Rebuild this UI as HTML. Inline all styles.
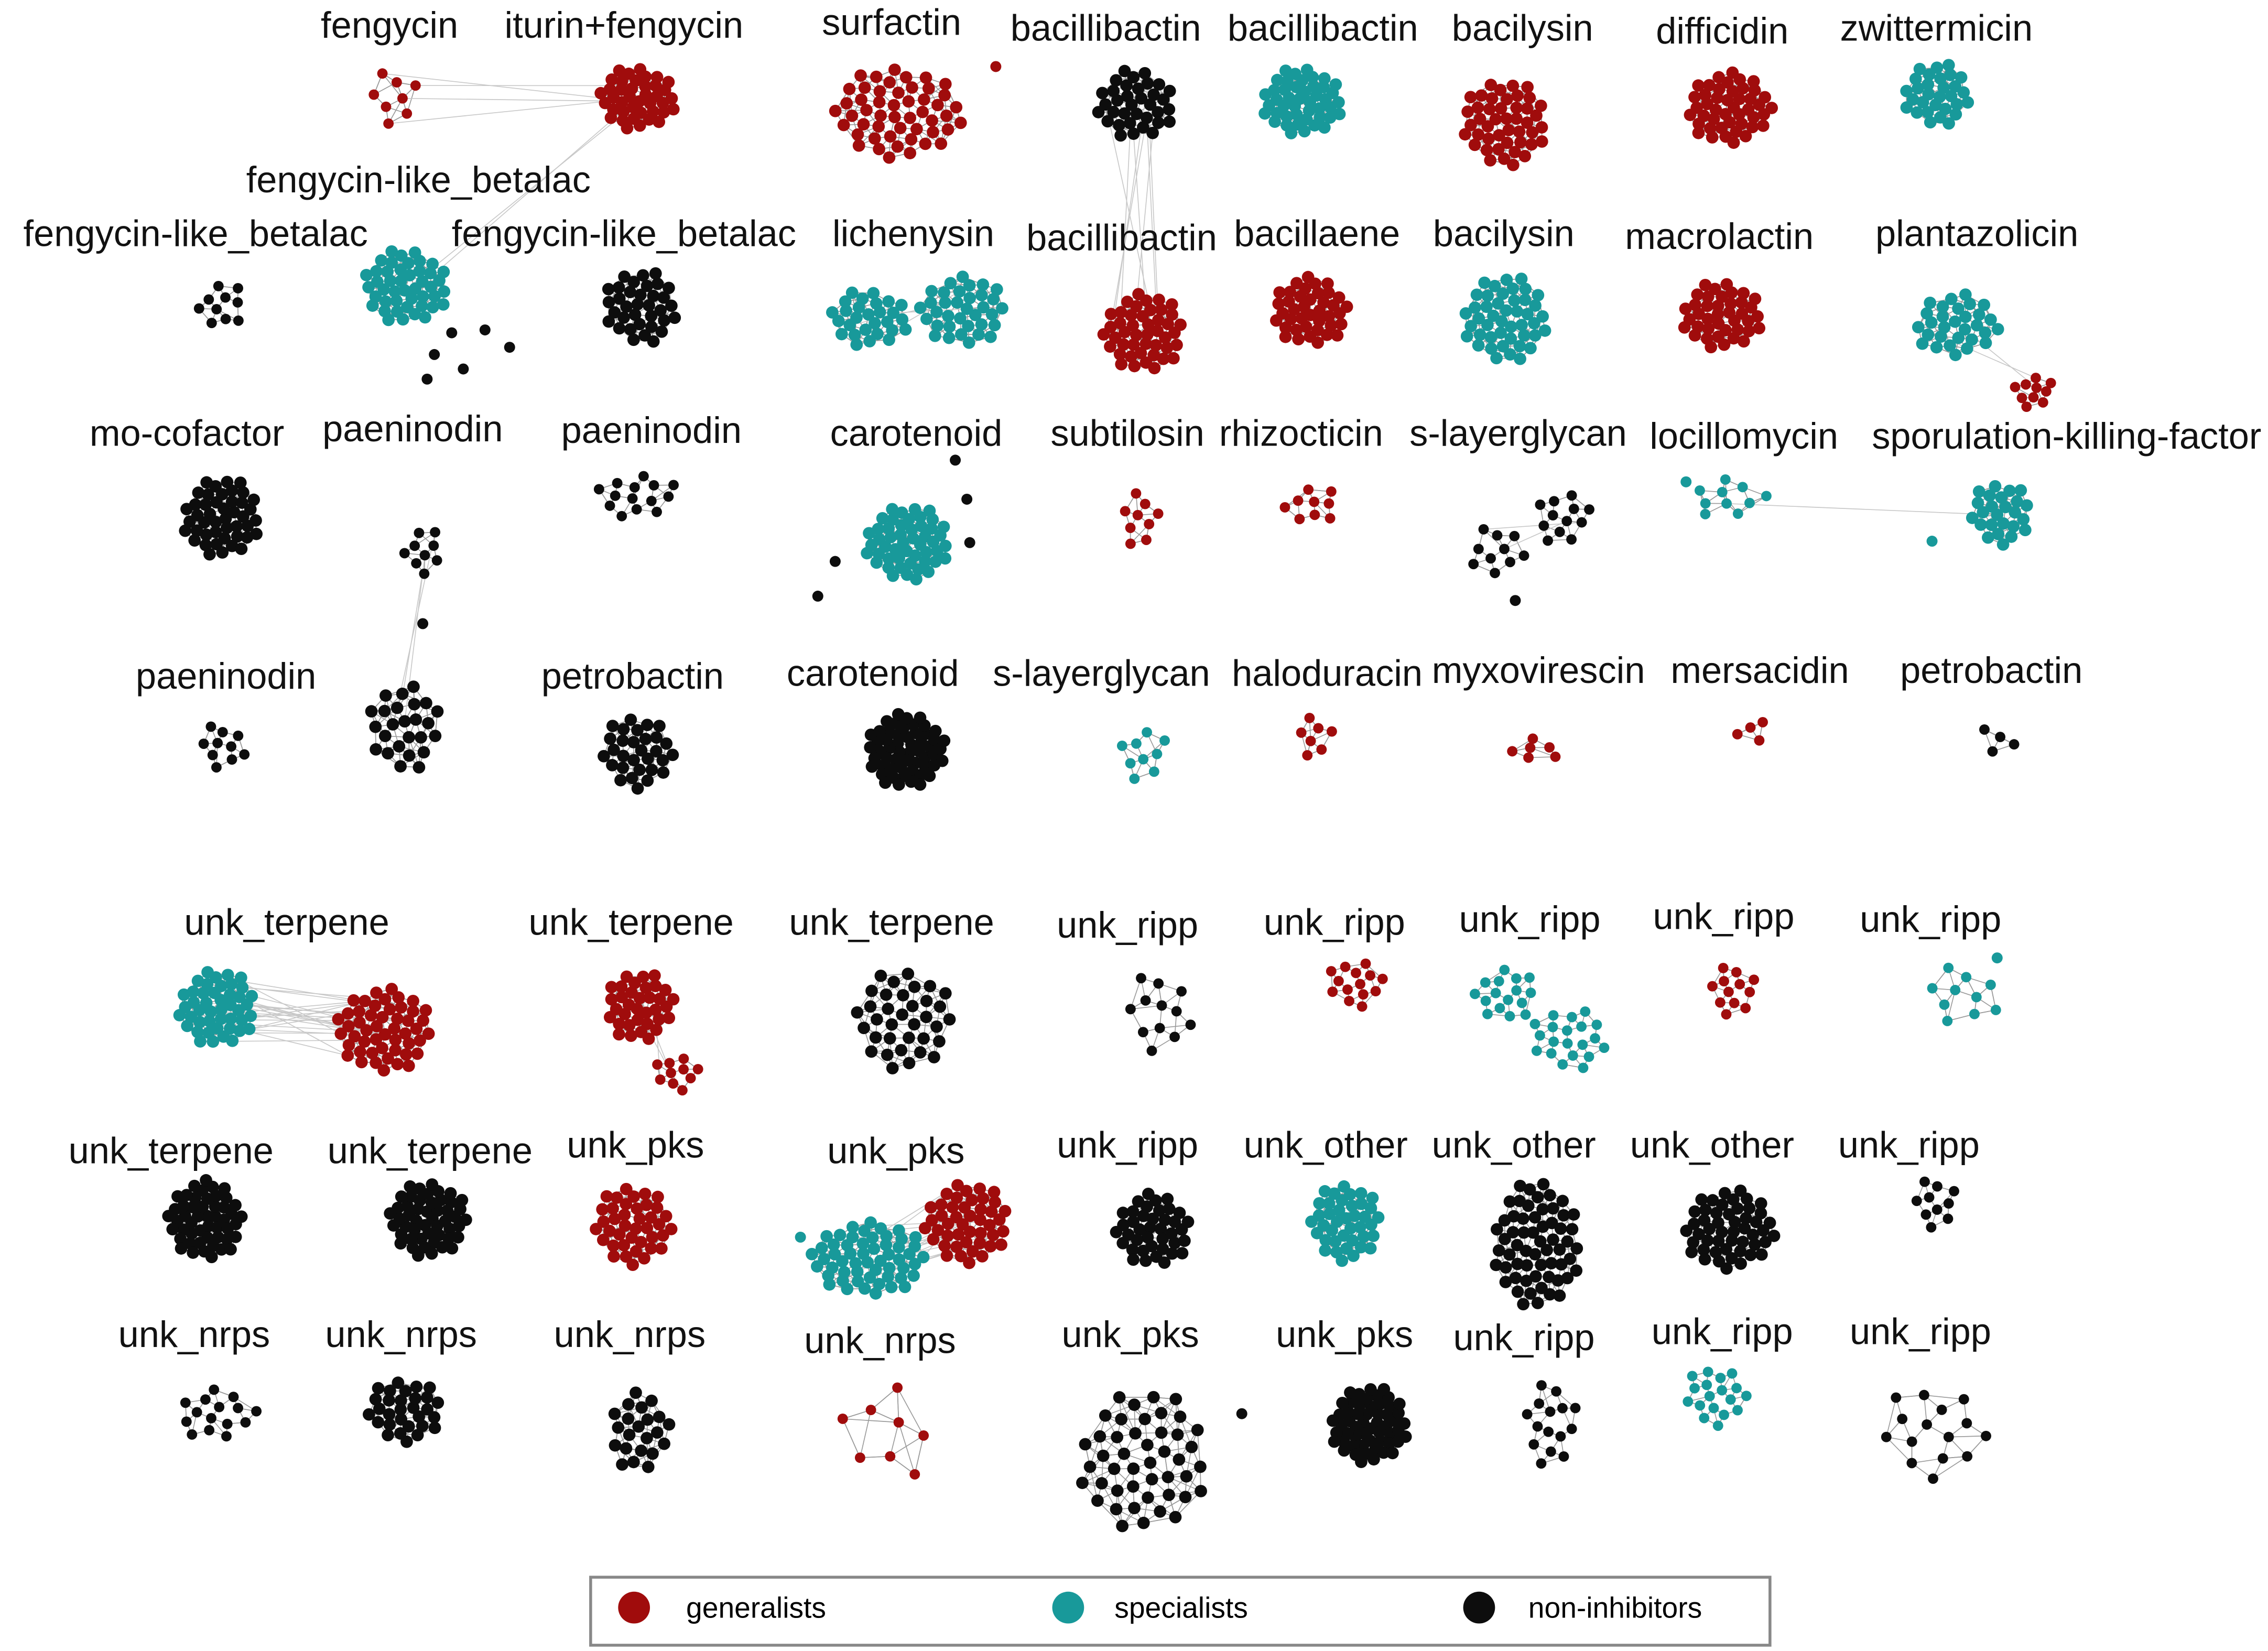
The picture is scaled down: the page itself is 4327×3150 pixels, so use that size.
<!DOCTYPE html>
<html><head><meta charset="utf-8">
<style>
html,body{margin:0;padding:0;background:#fff;}
svg{display:block;}
text{font-family:"Liberation Sans",sans-serif;}
</style></head>
<body>
<svg id="chart" xmlns="http://www.w3.org/2000/svg" width="4327" height="3150" viewBox="0 0 1567 1141">
<rect width="1567" height="1141" fill="#fff"/>
<g id="edges"></g>
<g id="nodes"></g>
<g id="labels"></g>
<g>
<rect x="408" y="1090" width="815" height="47" fill="#fff" stroke="#888" stroke-width="2"/>
<circle cx="438" cy="1111" r="11" fill="#a00c0c"/>
<text x="474" y="1118" font-size="20">generalists</text>
<circle cx="738" cy="1111" r="11" fill="#18999a"/>
<text x="770" y="1118" font-size="20">specialists</text>
<circle cx="1022" cy="1111" r="11" fill="#0d0d0d"/>
<text x="1056" y="1118" font-size="20">non-inhibitors</text>
</g>
</svg>
<script>
const COLORS={r:"#a00c0c",t:"#18999a",k:"#0d0d0d"};
// cluster labels
const clusterLabels=["fengycin","iturin+fengycin","surfactin","bacillibactin","bacillibactin","bacilysin","difficidin","zwittermicin",
"fengycin-like_betalac","fengycin-like_betalac","fengycin-like_betalac","lichenysin","bacillibactin","bacillaene","bacilysin","macrolactin","plantazolicin",
"mo-cofactor","paeninodin","paeninodin","carotenoid","subtilosin","rhizocticin","s-layerglycan","locillomycin","sporulation-killing-factor",
"paeninodin","petrobactin","carotenoid","s-layerglycan","haloduracin","myxovirescin","mersacidin","petrobactin",
"unk_terpene","unk_terpene","unk_terpene","unk_ripp","unk_ripp","unk_ripp","unk_ripp","unk_ripp",
"unk_terpene","unk_terpene","unk_pks","unk_pks","unk_ripp","unk_other","unk_other","unk_other","unk_ripp",
"unk_nrps","unk_nrps","unk_nrps","unk_nrps","unk_pks","unk_pks","unk_ripp","unk_ripp","unk_ripp"];
const labelX=[269,431,616,764,914,1052,1190,1338, 289,135,431,631,775,910,1039,1188,1366, 129,285,450,633,779,899,1049,1205,1428, 156,437,603,761,917,1063,1216,1376, 198,436,616,779,922,1057,1191,1334, 118,297,439,619,779,916,1046,1183,1319, 134,277,435,608,781,929,1053,1190,1327];
const labelY=[18,18,16,20,20,20,22,20, 125,162,162,162,165,162,162,164,162, 300,297,298,300,300,300,300,302,302, 468,468,466,466,466,464,464,464, 638,638,638,640,638,636,634,636, 796,796,792,796,792,792,792,792,792, 923,923,923,927,923,923,925,921,921];
// node groups: [cx,cy,rx,ry,count,color]
const groups=[
[273,68,20,20,8,"r"],[440,68,27,22,40,"r"],[620,78,45,32,50,"r"],[785,72,27,25,35,"k"],[900,70,28,24,45,"t"],[1040,85,30,30,45,"r"],[1195,75,30,25,45,"r"],[1338,65,24,22,30,"t"],
[280,198,30,26,45,"t"],[153,212,17,18,10,"k"],[443,212,26,26,35,"k"],[600,220,28,20,28,"t"],[665,215,30,25,35,"t"],[790,230,28,28,45,"r"],[905,215,27,24,40,"r"],[1040,220,30,30,45,"t"],[1190,218,28,24,40,"r"],[1352,225,30,22,30,"t"],[1405,270,15,12,10,"r"],
[153,358,27,28,45,"k"],[292,380,15,17,9,"k"],[440,342,30,16,14,"k"],[627,375,30,26,50,"t"],[788,360,15,20,9,"r"],[906,350,20,15,9,"r"],[1035,380,20,20,10,"k"],[1080,357,20,20,12,"k"],[1195,345,30,14,10,"t"],[1383,355,22,22,25,"t"],
[153,516,17,17,10,"k"],[279,503,25,32,25,"k"],[440,520,25,26,30,"k"],[626,519,28,26,55,"k"],[790,520,18,20,9,"t"],[909,510,15,15,7,"r"],[1062,518,18,10,6,"r"],[1210,507,12,12,4,"r"],[1378,512,15,12,4,"k"],
[150,697,27,27,45,"t"],[265,712,33,30,50,"r"],[442,695,24,25,35,"r"],[467,742,16,14,10,"r"],[625,705,35,35,35,"k"],[800,700,24,30,12,"k"],[936,680,20,18,14,"r"],[1040,688,22,20,16,"t"],[1085,718,28,22,20,"t"],[1198,685,18,18,12,"r"],[1355,688,28,22,10,"t"],
[142,843,26,28,50,"k"],[296,843,28,26,50,"k"],[437,847,27,28,40,"r"],[600,870,40,26,55,"t"],[668,845,30,28,45,"r"],[797,850,26,26,40,"k"],[930,845,25,27,40,"t"],[1062,860,30,45,60,"k"],[1195,850,32,28,50,"k"],[1338,832,17,18,10,"k"],
[150,978,30,18,15,"k"],[280,975,27,22,30,"k"],[442,990,22,28,22,"k"],[615,990,35,38,8,"r"],[790,1010,45,50,45,"k"],[946,985,27,27,55,"k"],[1072,985,20,30,15,"k"],[1185,965,22,22,18,"t"],[1335,990,38,35,15,"k"]
];
// inter-group links: [groupA, groupB, number of edges]
const links=[[0,1,4],[1,8,1],[3,13,8],[11,12,3],[17,18,2],[20,30,2],[27,28,1],[25,26,2],[38,39,25],[40,41,3],[52,53,18]];
const NS="http://www.w3.org/2000/svg";
const eG=document.getElementById("edges"),nG=document.getElementById("nodes"),lG=document.getElementById("labels");
const pts=[];
groups.forEach((g,gi)=>{
  const [cx,cy,rx,ry,n]=g;const arr=[];
  for(let i=0;i<n;i++){const f=Math.sqrt((i+0.5)/n),a=i*2.39996+gi;arr.push([cx+rx*f*Math.cos(a),cy+ry*f*Math.sin(a)]);}
  pts.push(arr);
});
function line(a,b,c,w){const l=document.createElementNS(NS,"line");


l.setAttribute("x1",a[0]);l.setAttribute("y1",a[1]);l.setAttribute("x2",b[0]);l.setAttribute("y2",b[1]);l.setAttribute("stroke",c);l.setAttribute("stroke-width",w);eG.appendChild(l);}
pts.forEach(arr=>{
  arr.forEach((p,i)=>{
    const d=arr.map((q,j)=>[j,(q[0]-p[0])**2+(q[1]-p[1])**2]).filter(x=>x[0]!==i).sort((a,b)=>a[1]-b[1]);
    const k=Math.min(arr.length>20?6:3,d.length);
    for(let m=0;m<k;m++)line(p,arr[d[m][0]],"#9a9a9a",0.6);
  });
});
links.forEach(([a,b,n])=>{for(let i=0;i<n;i++){const A=pts[a],B=pts[b];line(A[(i*7)%A.length],B[(i*5)%B.length],"#c8c8c8",0.6);}});
line([440,68],[305,185],"#c8c8c8",0.6);line([292,395],[279,475],"#c8c8c8",0.6);
groups.forEach((g,gi)=>{
  const col=COLORS[g[5]];
  pts[gi].forEach(p=>{const c=document.createElementNS(NS,"circle");
  
  
  c.setAttribute("cx",p[0].toFixed(1));c.setAttribute("cy",p[1].toFixed(1));c.setAttribute("r",g[4]>20?4.3:3.6);c.setAttribute("fill",col);nG.appendChild(c);});
});
[[295,262,"k"],[320,255,"k"],[352,240,"k"],[335,228,"k"],[312,230,"k"],[300,245,"k"],[565,412,"k"],[577,388,"k"],[668,345,"k"],[660,318,"k"],[670,375,"k"],[1335,374,"t"],[1165,333,"t"],[1047,415,"k"],[292,431,"k"],[858,977,"k"],[1380,662,"t"],[688,46,"r"],[553,855,"t"]].forEach(o=>{
  const c=document.createElementNS(NS,"circle");
  
  
  c.setAttribute("cx",o[0]);c.setAttribute("cy",o[1]);c.setAttribute("r",3.8);c.setAttribute("fill",COLORS[o[2]]);nG.appendChild(c);
});
clusterLabels.forEach((t,i)=>{const e=document.createElementNS(NS,"text");


e.setAttribute("x",labelX[i]);e.setAttribute("y",labelY[i]+8);e.setAttribute("text-anchor","middle");e.setAttribute("font-size","25.5");e.setAttribute("fill","#111");e.textContent=t;lG.appendChild(e);});
</script>
</body></html>
